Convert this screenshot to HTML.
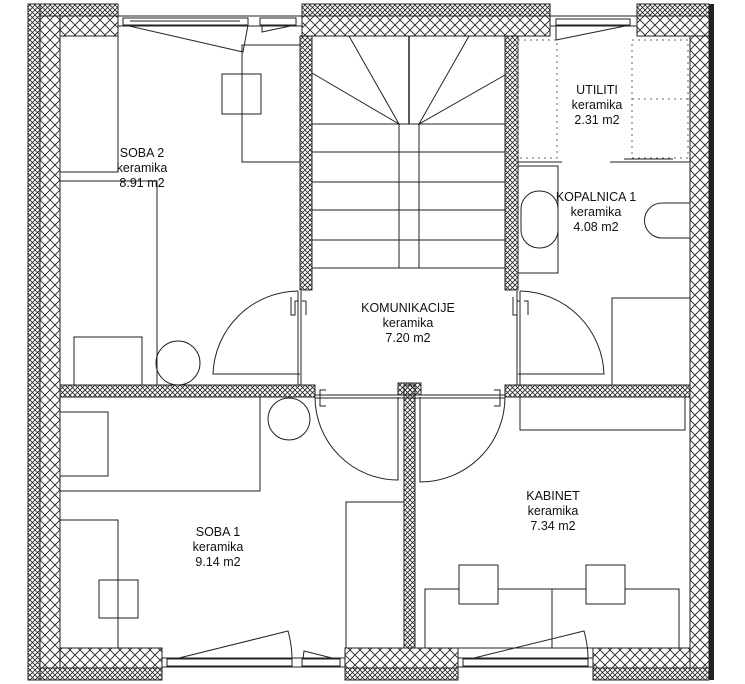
<!DOCTYPE html>
<html><head><meta charset="utf-8"><style>
html,body{margin:0;padding:0;background:#fff}
svg{display:block}
text{font-family:"Liberation Sans",sans-serif;font-size:12.5px;fill:#111;text-anchor:middle}
</style></head><body>
<svg width="745" height="684" viewBox="0 0 745 684" xmlns="http://www.w3.org/2000/svg">
<defs>
<pattern id="big" width="10" height="10" patternUnits="userSpaceOnUse">
<path d="M0,0L10,10M10,0L0,10" stroke="#222" stroke-width="0.9"/>
</pattern>
<pattern id="sm" width="5" height="5" patternUnits="userSpaceOnUse">
<path d="M0,0L5,5M5,0L0,5" stroke="#222" stroke-width="0.8"/>
</pattern>
</defs>
<g stroke="#222" stroke-width="1">
<rect x="28" y="4" width="12" height="676" fill="url(#sm)"/>
<rect x="40" y="4" width="78" height="12" fill="url(#sm)"/>
<rect x="302" y="4" width="248" height="12" fill="url(#sm)"/>
<rect x="637" y="4" width="72" height="12" fill="url(#sm)"/>
<rect x="40" y="668" width="122" height="12" fill="url(#sm)"/>
<rect x="345" y="668" width="113" height="12" fill="url(#sm)"/>
<rect x="593" y="668" width="116" height="12" fill="url(#sm)"/>
<rect x="40" y="16" width="20" height="652" fill="url(#big)"/>
<rect x="60" y="16" width="58" height="20" fill="url(#big)"/>
<rect x="302" y="16" width="248" height="20" fill="url(#big)"/>
<rect x="637" y="16" width="72" height="20" fill="url(#big)"/>
<rect x="690" y="36" width="19" height="632" fill="url(#big)"/>
<rect x="60" y="648" width="102" height="20" fill="url(#big)"/>
<rect x="345" y="648" width="113" height="20" fill="url(#big)"/>
<rect x="593" y="648" width="97" height="20" fill="url(#big)"/>
<rect x="300" y="36" width="12" height="254" fill="url(#sm)"/>
<rect x="505" y="36" width="13" height="254" fill="url(#sm)"/>
<rect x="60" y="385" width="255" height="12" fill="url(#sm)"/>
<rect x="505" y="385" width="185" height="12" fill="url(#sm)"/>
<rect x="404" y="385" width="11" height="263" fill="url(#sm)"/>
<rect x="398" y="383" width="23" height="12" fill="url(#sm)"/>
</g>
<rect x="709" y="4" width="5" height="676" fill="#222"/>
<g stroke="#222" stroke-width="1" fill="none">
<line x1="118" y1="16" x2="302" y2="16"/>
<line x1="118" y1="26" x2="302" y2="26"/>
<rect x="123" y="18" width="125" height="7"/>
<rect x="260" y="18" width="36" height="7"/>
<line x1="130" y1="21" x2="240" y2="21"/>
<path d="M125,25L243,52L248,25"/>
<path d="M262,25L262,32L295,25"/>
<line x1="550" y1="16" x2="637" y2="16"/>
<line x1="550" y1="26" x2="637" y2="26"/>
<rect x="556" y="19" width="74" height="6"/>
<path d="M556,25L556,40L630,25"/>
<line x1="162" y1="658" x2="345" y2="658"/>
<line x1="162" y1="667" x2="345" y2="667"/>
<rect x="167" y="659" width="125" height="7"/>
<rect x="302" y="659" width="38" height="7"/>
<path d="M175,659L288,631Q292,645 292,659"/>
<path d="M303,659L304,651L336,659"/>
<line x1="458" y1="658" x2="593" y2="658"/>
<line x1="458" y1="667" x2="593" y2="667"/>
<rect x="463" y="659" width="125" height="7"/>
<path d="M470,659L584,631Q588,645 588,659"/>
<line x1="312" y1="124" x2="505" y2="124"/>
<line x1="312" y1="152" x2="505" y2="152"/>
<line x1="312" y1="182" x2="505" y2="182"/>
<line x1="312" y1="210" x2="505" y2="210"/>
<line x1="312" y1="240" x2="505" y2="240"/>
<line x1="312" y1="268" x2="505" y2="268"/>
<line x1="399" y1="124" x2="399" y2="268"/>
<line x1="419" y1="124" x2="419" y2="268"/>
<line x1="409" y1="36" x2="409" y2="124" stroke-width="1.5"/>
<path d="M312,73L399,124L349,36"/>
<path d="M505,75L419,124L469,36"/>
<path d="M298,291A86,86 0 0 0 213,374L300,374"/>
<line x1="298" y1="291" x2="298" y2="385"/>
<line x1="301" y1="291" x2="301" y2="385"/>
<path d="M520,291A86,86 0 0 1 604,374L518,374"/>
<line x1="517" y1="291" x2="517" y2="385"/>
<line x1="520" y1="291" x2="520" y2="385"/>
<path d="M291,297v18h4v-14h3M302,301h4v14"/>
<path d="M513,297v18h4v-14h3M524,301h4v14"/>
<line x1="315" y1="395" x2="505" y2="395"/>
<line x1="315" y1="398" x2="505" y2="398"/>
<path d="M315,397A83,83 0 0 0 398,480L398,397"/>
<path d="M420,397L420,482A85,85 0 0 0 505,397"/>
<path d="M326,390h-6v16h6M494,390h6v16h-6"/>
<polyline points="118,36 118,172 60,172"/>
<polyline points="60,181 157,181 157,385"/>
<rect x="74" y="337" width="68" height="48"/>
<circle cx="178" cy="363" r="22"/>
<polyline points="300,45 242,45 242,162 300,162"/>
<rect x="222" y="74" width="39" height="40"/>
<polyline points="60,491 260,491 260,397"/>
<rect x="60" y="412" width="48" height="64"/>
<circle cx="289" cy="419" r="21"/>
<polyline points="60,520 118,520 118,648"/>
<rect x="99" y="580" width="39" height="38"/>
<polyline points="346,648 346,502 404,502"/>
<rect x="425" y="589" width="254" height="59"/>
<line x1="552" y1="589" x2="552" y2="648"/>
<rect x="459" y="565" width="39" height="39" fill="#fff"/>
<rect x="586" y="565" width="39" height="39" fill="#fff"/>
<polyline points="520,397 520,430 685,430 685,397"/>
<polyline points="612,385 612,298 690,298"/>
<g stroke-dasharray="2,4" stroke="#666">
<rect x="518" y="40" width="39" height="118"/>
<rect x="632" y="40" width="56" height="118"/>
<line x1="632" y1="99" x2="688" y2="99"/>
</g>
<line x1="518" y1="162" x2="562" y2="162"/>
<line x1="610" y1="162" x2="690" y2="162"/>
<line x1="624" y1="159" x2="673" y2="159"/>
<polyline points="518,166 558,166 558,273 518,273"/>
<rect x="521" y="191" width="37" height="57" rx="18"/>
<path d="M690,203H662A17,17 0 0 0 662,238H690"/>
</g>
<text x="142" y="157">SOBA 2</text><text x="142" y="172">keramika</text><text x="142" y="187">8.91 m2</text>
<text x="408" y="312">KOMUNIKACIJE</text><text x="408" y="327">keramika</text><text x="408" y="342">7.20 m2</text>
<text x="597" y="94">UTILITI</text><text x="597" y="109">keramika</text><text x="597" y="124">2.31 m2</text>
<text x="596" y="201">KOPALNICA 1</text><text x="596" y="216">keramika</text><text x="596" y="231">4.08 m2</text>
<text x="218" y="536">SOBA 1</text><text x="218" y="551">keramika</text><text x="218" y="566">9.14 m2</text>
<text x="553" y="500">KABINET</text><text x="553" y="515">keramika</text><text x="553" y="530">7.34 m2</text>
</svg>
</body></html>
